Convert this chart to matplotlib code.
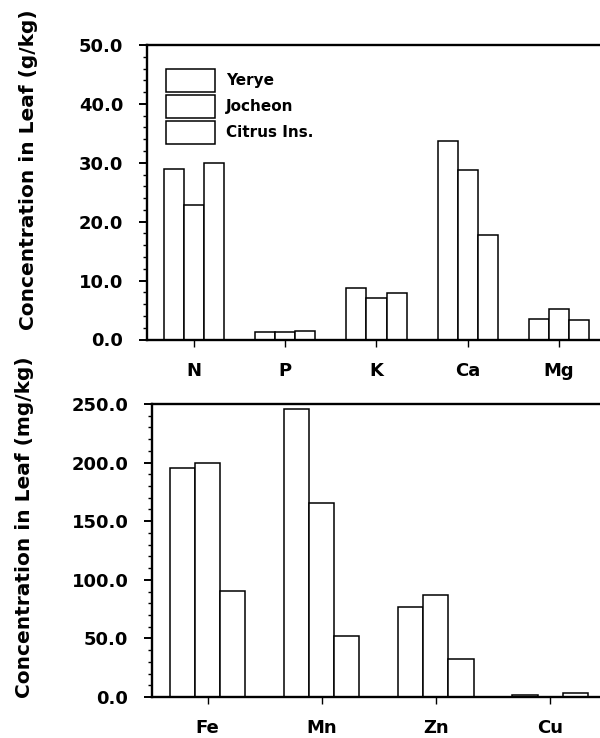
import matplotlib
matplotlib.use("Agg")
import matplotlib.pyplot as plt
from matplotlib.patches import Patch
from matplotlib.ticker import MultipleLocator, FormatStrFormatter
import numpy as np

# Leaf nutrient concentrations by site
series = ["Yerye", "Jocheon", "Citrus Ins."]

macro_elements = ["N", "P", "K", "Ca", "Mg"]
macro_yerye = [29.0, 1.3, 8.7, 33.7, 3.5]
macro_jocheon = [22.9, 1.3, 7.0, 28.7, 5.2]
macro_citrus = [29.9, 1.4, 7.9, 17.7, 3.3]

micro_elements = ["Fe", "Mn", "Zn", "Cu"]
micro_yerye = [195.6, 245.6, 77.1, 2.0]
micro_jocheon = [199.4, 165.2, 86.7, 0.4]
micro_citrus = [90.1, 52.0, 32.1, 3.3]

plt.rcParams["font.family"] = ["DejaVu Sans"]
plt.rcParams["font.weight"] = "bold"

W, H = 600, 738
fig = plt.figure(figsize=(W / 100, H / 100), dpi=100)


def px_axes(left, top, right, bottom):
    return fig.add_axes([left / W, 1 - bottom / H, (right - left) / W, (bottom - top) / H])


ax1 = px_axes(147, 45, 604.6, 339.5)
ax2 = px_axes(152, 404, 607.2, 697)

bar_w = 0.22
edge = dict(facecolor="white", edgecolor="black", linewidth=1.1)


def draw_panel(ax, cats, groups, ymax, major, minor, xlim, ylabel, label_x):
    x = np.arange(1, len(cats) + 1)
    for i, vals in enumerate(groups):
        ax.bar(x + (i - 1) * bar_w, vals, width=bar_w, zorder=2, **edge)
    ax.set_xlim(*xlim)
    ax.set_ylim(0, ymax)
    ax.set_xticks(x)
    ax.set_xticklabels(cats, fontsize=13, fontweight="bold")
    ax.yaxis.set_major_locator(MultipleLocator(major))
    ax.yaxis.set_minor_locator(MultipleLocator(minor))
    ax.yaxis.set_major_formatter(FormatStrFormatter("%.1f"))
    for lab in ax.get_yticklabels():
        lab.set_fontsize(13)
        lab.set_fontweight("bold")
    ax.tick_params(axis="y", which="major", direction="out", length=6, width=1.4, pad=11)
    ax.tick_params(axis="y", which="minor", direction="out", length=3, width=1.0)
    ax.tick_params(axis="x", which="major", direction="out", length=5, width=1.0, pad=11)
    ax.tick_params(axis="x", which="minor", bottom=False)
    for side in ("left", "bottom", "top"):
        ax.spines[side].set_linewidth(1.7)
    ax.spines["right"].set_visible(False)
    ax.set_ylabel(ylabel, fontsize=14.5, fontweight="bold", va="center")
    ax.yaxis.set_label_coords(label_x, 0.578)


draw_panel(ax1, macro_elements, [macro_yerye, macro_jocheon, macro_citrus],
           50, 10, 2, (0.485, 5.5), "Concentration in Leaf (g/kg)", -0.260)
draw_panel(ax2, micro_elements, [micro_yerye, micro_jocheon, micro_citrus],
           250, 50, 10, (0.514, 4.5), "Concentration in Leaf (mg/kg)", -0.281)

handles = [Patch(**edge) for _ in series]
leg = ax1.legend(handles, series, loc="upper left",
                 bbox_to_anchor=((166 - 147) / 457.6, 1 - (69 - 45) / 294.5),
                 frameon=False, borderpad=0, borderaxespad=0,
                 handlelength=3.2, handleheight=1.94, labelspacing=0.18,
                 handletextpad=0.75,
                 prop=dict(family="DejaVu Sans", weight="bold", size=11))

fig.savefig("out.png", dpi=100)
